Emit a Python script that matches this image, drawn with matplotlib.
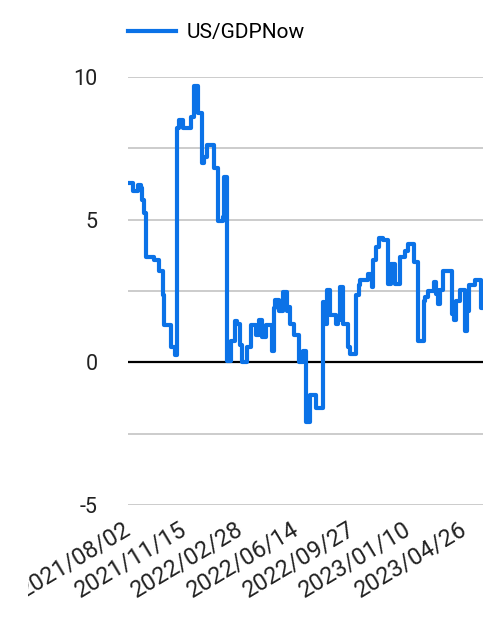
import matplotlib as mpl
mpl.use("Agg")
import matplotlib.pyplot as plt
from matplotlib.transforms import Bbox, TransformedBbox
import pandas as pd

plt.rcParams['font.family'] = ['Roboto', 'DejaVu Sans']

# GDPNow estimate, value holds from each date until the next one
change_dates = [
    "2021-08-02", "2021-08-09", "2021-08-19", "2021-08-25", "2021-08-27", "2021-08-31",
    "2021-09-03", "2021-09-17", "2021-09-28", "2021-10-04", "2021-10-06", "2021-10-20",
    "2021-10-28", "2021-11-01", "2021-11-04", "2021-11-12", "2021-11-26", "2021-12-02",
    "2021-12-10", "2021-12-17", "2021-12-21", "2021-12-27", "2022-01-09", "2022-01-17",
    "2022-01-25", "2022-01-28", "2022-02-03", "2022-02-10", "2022-02-18", "2022-02-21",
    "2022-02-26", "2022-03-02", "2022-03-11", "2022-03-20", "2022-03-28", "2022-04-03",
    "2022-04-09", "2022-04-16", "2022-04-28", "2022-05-01", "2022-05-04", "2022-05-11",
    "2022-05-18", "2022-05-26", "2022-05-29", "2022-06-01", "2022-06-08", "2022-06-17",
    "2022-06-26", "2022-07-01", "2022-07-09", "2022-07-20", "2022-08-01", "2022-08-03",
    "2022-08-10", "2022-08-16", "2022-08-27", "2022-08-31", "2022-09-02", "2022-09-09",
    "2022-09-18", "2022-09-22", "2022-10-03", "2022-10-08", "2022-10-11", "2022-10-26",
    "2022-11-02", "2022-11-04", "2022-11-10", "2022-11-16", "2022-11-23", "2022-12-03",
    "2022-12-08", "2022-12-16", "2022-12-25", "2023-01-03", "2023-01-09", "2023-01-20",
    "2023-01-28", "2023-02-08", "2023-02-10", "2023-02-16", "2023-02-27", "2023-03-02",
    "2023-03-04", "2023-03-07", "2023-03-10", "2023-03-16", "2023-04-02", "2023-04-05",
    "2023-04-10", "2023-04-16", "2023-04-26", "2023-04-29", "2023-05-04", "2023-05-15",
    "2023-05-27", "2023-05-29",
]
gdpnow = [
    6.3, 6.0, 6.2, 6.1, 5.7, 5.25,
    3.7, 3.6, 3.2, 2.35, 1.3, 0.55,
    0.25, 8.2, 8.5, 8.2, 8.6, 9.7,
    8.75, 7.0, 7.2, 7.6, 6.8, 4.95,
    5.1, 6.5, 0.05, 0.75, 1.45, 1.35,
    0.6, 0.0, 0.55, 1.3, 0.95, 1.5,
    0.9, 1.3, 0.4, 1.9, 2.2, 1.8,
    2.45, 1.8, 1.95, 1.35, 0.95, 0.0,
    0.4, -2.1, -1.15, -1.6, 2.1, 1.35,
    2.55, 1.65, 1.35, 1.5, 2.65, 1.35,
    0.55, 0.3, 2.35, 2.7, 2.9, 3.1,
    2.65, 3.6, 4.05, 4.35, 4.3, 2.75,
    3.45, 2.75, 3.7, 3.9, 4.15, 3.5,
    0.75, 2.15, 2.3, 2.5, 2.8, 2.4,
    2.55, 2.05, 2.55, 3.2, 1.7, 1.5,
    2.15, 2.55, 1.1, 1.8, 2.7, 2.9,
    1.9, 1.9,
]
tick_labels = ["2021/08/02", "2021/11/15", "2022/02/28", "2022/06/14",
               "2022/09/27", "2023/01/10", "2023/04/26"]

dates = pd.to_datetime(change_dates)
ticks = pd.to_datetime(tick_labels, format="%Y/%m/%d")

fig = plt.figure(figsize=(4.83, 6.39), dpi=100)
ax = fig.add_axes([128 / 483, 1 - 505 / 639, 1 - 128 / 483, (505 - 77) / 639])

for g in [-5, -2.5, 2.5, 5, 7.5, 10]:
    ax.axhline(g, color="#cccccc", lw=1.4, zorder=1)
ax.axhline(0, color="black", lw=1.6, zorder=2)

ax.plot(dates, gdpnow, drawstyle="steps-post", color="#0b72e7", lw=3.0,
        label="US/GDPNow", zorder=3)

ax.set_ylim(-5, 10)
ax.set_xlim(pd.Timestamp("2021-07-31"), pd.Timestamp("2023-05-30"))
ax.set_yticks([-5, 0, 5, 10])
ax.set_yticklabels(["-5", "0", "5", "10"])
ax.set_xticks(ticks)
ax.set_xticklabels(tick_labels, rotation=31, ha="right", va="center",
                   rotation_mode="anchor")
ax.tick_params(axis="both", length=0, colors="#222222")
ax.tick_params(axis="y", pad=22, labelsize=15.5)
ax.tick_params(axis="x", pad=16, labelsize=17)
for s in ax.spines.values():
    s.set_visible(False)

# the first date label is cut off at the left in the original
first = ax.get_xticklabels()[0]
first.set_clip_on(True)
first.set_clip_box(TransformedBbox(Bbox([[28 / 483, 0], [1, 1]]), fig.transFigure))

ax.legend(loc="upper left", bbox_to_anchor=(128 / 483, 1 - 23 / 639),
          bbox_transform=fig.transFigure, frameon=False, fontsize=15,
          handlelength=2.3, handletextpad=0.5, borderaxespad=0, borderpad=0)

fig.savefig("out.png", dpi=100)
